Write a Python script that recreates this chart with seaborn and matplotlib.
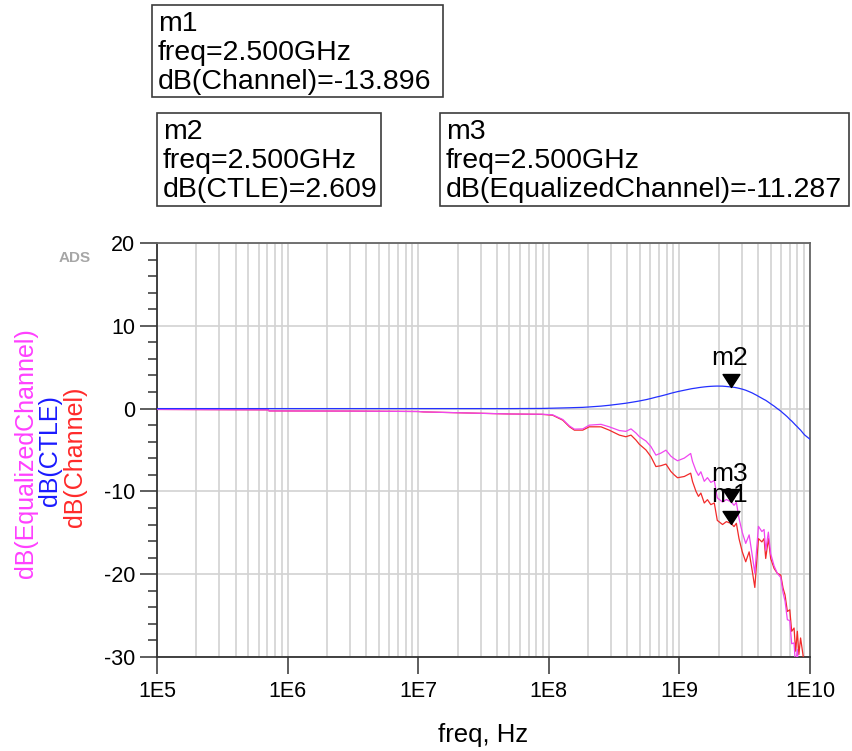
import matplotlib
matplotlib.use("Agg")
import matplotlib.pyplot as plt
import pandas as pd
import seaborn as sns
from matplotlib.patches import Rectangle
from matplotlib.path import Path
from matplotlib.ticker import FixedLocator, FixedFormatter, LogLocator, MultipleLocator, NullFormatter

# ---------------------------------------------------------------- data
freq_hz = [
    1.0e5, 7.1e5, 7.2e5, 3.2e6, 1.0e7, 1.1e7, 2.0e7, 5.0e7, 8.9e7,
    1.07e8, 1.28e8, 1.44e8, 1.57e8, 1.82e8, 2.04e8, 2.51e8, 2.90e8, 3.47e8, 3.89e8,
    4.26e8, 4.65e8, 4.93e8, 5.55e8, 6.05e8, 6.61e8, 7.21e8, 7.89e8, 8.61e8, 9.12e8,
    9.68e8, 1.09e9, 1.22e9, 1.26e9, 1.34e9, 1.40e9, 1.46e9, 1.55e9, 1.64e9, 1.74e9,
    1.85e9, 1.95e9, 2.14e9, 2.29e9, 2.50e9, 2.62e9, 2.73e9, 2.86e9, 3.03e9, 3.22e9,
    3.42e9, 3.62e9, 3.78e9, 3.89e9, 4.03e9, 4.28e9, 4.45e9, 4.58e9, 4.80e9, 5.00e9,
    5.31e9, 5.62e9, 5.97e9, 6.22e9, 6.44e9, 6.71e9, 7.00e9, 7.24e9, 7.55e9, 7.76e9,
    8.00e9, 8.22e9, 8.47e9, 8.83e9, 9.12e9, 1.0e10,
]

channel_db = [
    -0.1, -0.15, -0.28, -0.3, -0.35, -0.4, -0.5, -0.65, -0.7,
    -0.8, -1.4, -2.2, -2.6, -2.6, -2.2, -2.2, -2.6, -3.2, -3.4,
    -3.2, -3.8, -4.3, -5.0, -5.8, -7.0, -6.9, -6.7, -7.6, -8.0,
    -8.35, -8.2, -7.8, -8.8, -10.0, -10.6, -10.2, -11.4, -11.0, -11.6,
    -11.4, -13.5, -14.0, -13.65, -13.896, -14.25, -13.85, -15.7, -17.3, -18.5,
    -17.3, -19.7, -21.6, -18.9, -15.7, -16.1, -15.7, -18.1, -15.7, -18.1,
    -19.3, -19.9, -20.1, -21.7, -22.5, -24.5, -24.3, -26.9, -26.5, -29.3,
    -26.9, -29.7, -27.7, -29.7, -31.5, -34.0,
]

ctle_db = [
    0.0, 0.0, 0.0, 0.0, 0.0, 0.0, 0.0, 0.0, 0.02,
    0.05, 0.08, 0.1, 0.12, 0.15, 0.2, 0.3, 0.4, 0.55, 0.65,
    0.75, 0.85, 0.92, 1.08, 1.22, 1.38, 1.52, 1.68, 1.85, 1.95,
    2.05, 2.22, 2.38, 2.42, 2.48, 2.53, 2.57, 2.62, 2.66, 2.69,
    2.71, 2.72, 2.71, 2.67, 2.609, 2.57, 2.52, 2.45, 2.35, 2.22,
    2.05, 1.88, 1.72, 1.62, 1.48, 1.25, 1.1, 1.0, 0.78, 0.58,
    0.3, 0.0, -0.3, -0.55, -0.75, -1.0, -1.3, -1.5, -1.8, -2.0,
    -2.2, -2.4, -2.6, -2.95, -3.2, -3.7,
]

equalized_db = [
    -0.1, -0.15, -0.28, -0.3, -0.35, -0.4, -0.5, -0.65, -0.68,
    -0.75, -1.32, -2.1, -2.48, -2.45, -2.0, -1.9, -2.2, -2.65, -2.75,
    -2.45, -2.95, -3.38, -3.92, -4.58, -5.62, -5.38, -5.02, -5.75, -6.05,
    -6.3, -5.98, -5.42, -6.38, -7.52, -8.07, -7.63, -8.78, -8.34, -8.91,
    -8.69, -10.78, -11.29, -10.98, -11.287, -11.68, -11.33, -13.25, -14.95, -16.28,
    -15.25, -17.82, -19.88, -17.28, -14.22, -14.85, -14.6, -17.1, -14.92, -17.52,
    -19.0, -19.9, -20.4, -22.25, -23.25, -25.5, -25.6, -28.4, -28.3, -31.3,
    -29.1, -32.1, -30.3, -32.65, -34.7, -37.7,
]

trace_names = ["Channel", "EqualizedChannel", "CTLE"]
trace_colors = ["#f22a2a", "#f046f0", "#2430ff"]

marker_freq = 2.5e9
marker_names = ["m1", "m2", "m3"]
marker_traces = ["Channel", "CTLE", "EqualizedChannel"]
marker_values = [-13.896, 2.609, -11.287]

x_ticks = [1e5, 1e6, 1e7, 1e8, 1e9, 1e10]
x_tick_labels = ["1E5", "1E6", "1E7", "1E8", "1E9", "1E10"]
y_ticks = [20, 10, 0, -10, -20, -30]
y_tick_labels = ["20", "10", "0", "-10", "-20", "-30"]

# ---------------------------------------------------------------- style
sns.set_theme(style="white")
plt.rcParams["font.family"] = ["Liberation Sans", "DejaVu Sans"]
plt.rcParams["axes.unicode_minus"] = False
plt.rcParams["text.color"] = "black"
plt.rcParams["axes.labelcolor"] = "black"

W, H = 852, 751
fig = plt.figure(figsize=(W / 100, H / 100), dpi=100)


def fx(px):
    return px / W


def fy(py):
    return 1 - py / H


ax = fig.add_axes([fx(157), fy(657), fx(810) - fx(157), fy(243) - fy(657)])
ax.set_xscale("log")

df = pd.concat(
    [
        pd.DataFrame({"freq": freq_hz, "dB": vals, "trace": name})
        for name, vals in zip(
            ["Channel", "CTLE", "EqualizedChannel"],
            [channel_db, ctle_db, equalized_db],
        )
    ],
    ignore_index=True,
)

sns.lineplot(
    data=df, x="freq", y="dB", hue="trace", hue_order=trace_names,
    palette=trace_colors, estimator=None, sort=False, linewidth=0.9,
    legend=False, ax=ax, zorder=3,
)

ax.set_xlim(1e5, 1e10)
ax.set_ylim(-30, 20)

# ticks and grid
ax.xaxis.set_major_locator(FixedLocator(x_ticks))
ax.xaxis.set_major_formatter(FixedFormatter(x_tick_labels))
ax.xaxis.set_minor_locator(LogLocator(base=10, subs=range(2, 10), numticks=50))
ax.xaxis.set_minor_formatter(NullFormatter())
ax.yaxis.set_major_locator(FixedLocator(y_ticks))
ax.yaxis.set_major_formatter(FixedFormatter(y_tick_labels))
ax.yaxis.set_minor_locator(MultipleLocator(2))

ax.grid(which="major", axis="both", color="#d2d2d2", linewidth=1.2)
ax.grid(which="minor", axis="x", color="#d2d2d2", linewidth=1.2)
ax.set_axisbelow(True)

ax.tick_params(axis="both", which="major", direction="out", length=12.5,
               width=1.1, color="#333333", labelsize=15.5, labelcolor="black")
ax.tick_params(axis="x", which="major", pad=4.5, bottom=True)
ax.tick_params(axis="y", which="major", pad=3, left=True)
ax.tick_params(axis="x", which="minor", length=0)
ax.tick_params(axis="y", which="minor", direction="out", length=6.7,
               width=1.1, color="#333333", left=True)

for side in ["left", "bottom"]:
    ax.spines[side].set_color("#333333")
    ax.spines[side].set_linewidth(1.3)
for side in ["top", "right"]:
    ax.spines[side].set_color("#666666")
    ax.spines[side].set_linewidth(1.3)

ax.set_xlabel("freq, Hz", fontsize=18.5, color="black")
ax.xaxis.set_label_coords(0.5, -(735 - 657) / 414)
ax.xaxis.label.set_va("center")
ax.set_ylabel("")

# markers: downward triangles with their apex on the trace value
tri = Path([(-0.65, 1.0), (0.65, 1.0), (0.0, 0.0), (-0.65, 1.0)],
           [Path.MOVETO, Path.LINETO, Path.LINETO, Path.CLOSEPOLY])
for name, val in zip(marker_names, marker_values):
    ax.annotate(name, xy=(marker_freq, val), xytext=(-1.5, 15.5),
                textcoords="offset points", ha="center", va="baseline",
                fontsize=19, color="black", zorder=4)
for val in marker_values:
    ax.plot([marker_freq], [val], marker=tri, markersize=18.7, color="black",
            linestyle="none", zorder=6, clip_on=False)

# stacked trace names used as the y-axis title
fig.text(fx(26), fy(453), "dB(EqualizedChannel)", rotation=90, color="#ff40ff",
         fontsize=18, ha="center", va="center")
fig.text(fx(50), fy(451), "dB(CTLE)", rotation=90, color="#1a1aff",
         fontsize=18, ha="center", va="center")
fig.text(fx(75), fy(457), "dB(Channel)", rotation=90, color="#ff2a2a",
         fontsize=18, ha="center", va="center")

fig.text(fx(75), fy(258), "ADS", color="#a6a6a6", fontsize=11,
         fontweight="bold", ha="center", va="center")

# marker readout boxes
boxes = [
    (152, 5, 443, 97),
    (157, 113, 381, 206),
    (440, 113, 849, 206),
]
for (x0, y0, x1, y1), name, trace, val in zip(boxes, marker_names,
                                             marker_traces, marker_values):
    fig.add_artist(Rectangle((fx(x0), fy(y1)), fx(x1) - fx(x0), fy(y0) - fy(y1),
                             transform=fig.transFigure, fill=False,
                             edgecolor="#3c3c3c", linewidth=1.2))
    lines = [name, f"freq={marker_freq / 1e9:.3f}GHz", f"dB({trace})={val:.3f}"]
    for k, line in enumerate(lines):
        fig.text(fx(x0 + 6), fy(y0 + 26 + 29 * k), line, fontsize=20.5,
                 color="black", ha="left", va="baseline")

fig.savefig("out.png", dpi=100)
